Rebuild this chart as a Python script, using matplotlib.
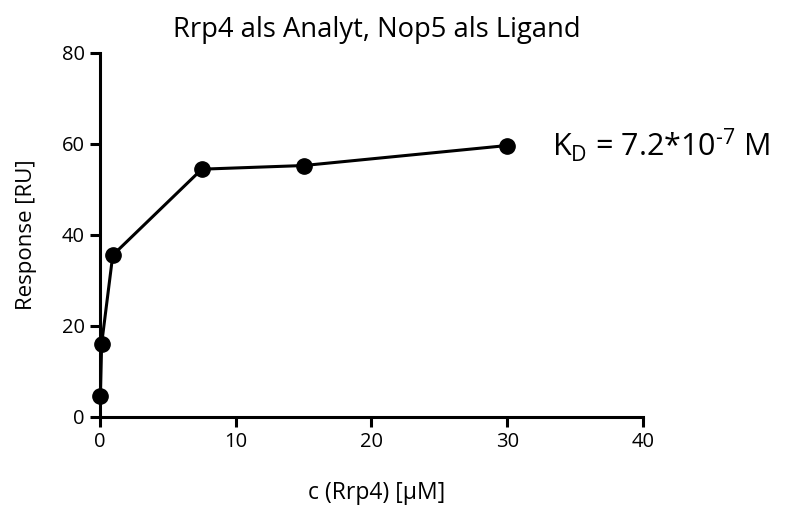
import matplotlib
matplotlib.use("Agg")
import matplotlib.pyplot as plt

conc = [0.03, 0.12, 0.94, 7.5, 15, 30]
response = [4.5, 16.0, 35.5, 54.4, 55.2, 59.6]
xticks = [0, 10, 20, 30, 40]
yticks = [0, 20, 40, 60, 80]

plt.rcParams['font.family'] = ['Open Sans', 'DejaVu Sans']
plt.rcParams['mathtext.fontset'] = 'custom'
plt.rcParams['mathtext.rm'] = 'Open Sans'

fig = plt.figure(figsize=(7.85, 5.09), dpi=100)
ax = fig.add_axes([0.1274, 0.1813, 0.6916, 0.7152])
ax.plot(conc, response, color='black', lw=2.2, marker='o', ms=11, clip_on=False, zorder=3)
ax.set_xlim(0, 40)
ax.set_ylim(0, 80)
ax.set_xticks(xticks)
ax.set_yticks(yticks)
for s in ['top', 'right']:
    ax.spines[s].set_visible(False)
for s in ['left', 'bottom']:
    ax.spines[s].set_linewidth(2.2)
ax.tick_params(direction='out', width=2.2, length=7, labelsize=14.5, colors='black', pad=4)
ax.set_xlabel('c (Rrp4) [µM]', fontsize=16.5)
ax.xaxis.set_label_coords(0.51, -0.21)
ax.xaxis.label.set_va('center')
ax.set_ylabel('Response [RU]', fontsize=16, labelpad=18)
ax.set_title('Rrp4 als Analyt, Nop5 als Ligand', fontsize=19.7, pad=11, x=0.51)
ax.text(33.3, 59.7, r'$\mathregular{K_D}$ = 7.2*10$^{\text{-7}}$ M', fontsize=22,
        ha='left', va='center', clip_on=False)
fig.savefig('out.png', dpi=100)
